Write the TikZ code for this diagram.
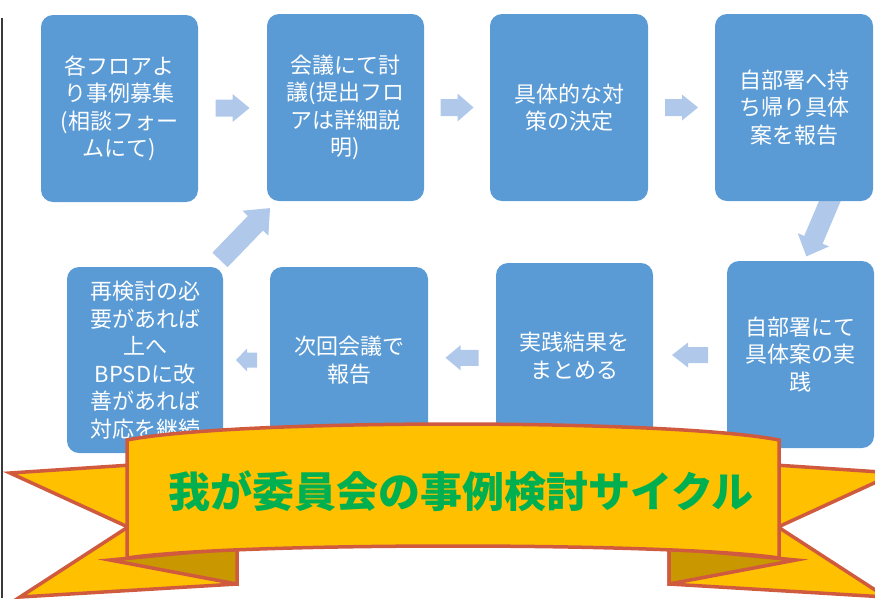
\documentclass[tikz,border=0pt]{standalone}
\usepackage{fontspec}
\newfontfamily\jp{Noto Sans CJK JP}
\usetikzlibrary{calc}
\pgfdeclarelayer{background}
\pgfsetlayers{background,main}
\definecolor{boxblue}{HTML}{5B9BD5}
\definecolor{arrowblue}{HTML}{B0C8EA}
\definecolor{ribfill}{HTML}{FFC000}
\definecolor{ribline}{HTML}{D05A3E}
\definecolor{ribdark}{HTML}{C99700}
\definecolor{titlegreen}{HTML}{00B050}
\definecolor{edgegray}{HTML}{3A3A3A}
\tikzset{
  pics/barrow/.style n args={4}{code={
    \fill[arrowblue] (-#1/2,-#2) -- (#1/2-#4,-#2) -- (#1/2-#4,-#3) -- (#1/2,0)
      -- (#1/2-#4,#3) -- (#1/2-#4,#2) -- (-#1/2,#2) -- cycle;
  }},
  bluebox/.style={fill=boxblue, rounded corners=12pt, text=white,
    font=\jp\fontsize{22}{27.5}\selectfont, align=center, inner sep=0pt},
  ribtail/.style={draw=ribline, line width=3.5pt, fill=ribfill, line join=miter},
  ribfold/.style={draw=ribline, line width=3.5pt, fill=ribdark, line join=miter},
}
\begin{document}
\begin{tikzpicture}[x=1pt,y=-1pt]
\useasboundingbox (0,0) rectangle (875,598);
\draw[edgegray, line width=2pt] (1.5,18) -- (1.5,598);

% boxes
\node[bluebox, minimum width=157pt, minimum height=187pt] (b1) at (119.5,108.5)
  {各フロアよ\\り事例募集\\(相談フォー\\ムにて)};
\node[bluebox, minimum width=157pt, minimum height=187pt] (b2) at (345.5,107.5)
  {会議にて討\\議(提出フロ\\アは詳細説\\明)};
\node[bluebox, minimum width=158pt, minimum height=187pt] (b3) at (569,107.5)
  {具体的な対\\策の決定};
\node[bluebox, minimum width=158pt, minimum height=187pt] (b4) at (794,107.5)
  {自部署へ持\\ち帰り具体\\案を報告};
\node[bluebox, minimum width=147pt, minimum height=187pt] (b5) at (800.5,354.5)
  {自部署にて\\具体案の実\\践};
\node[bluebox, minimum width=157pt, minimum height=185pt] (b6) at (574.5,355.5)
  {実践結果を\\まとめる};
\node[bluebox, minimum width=158pt, minimum height=186pt] (b7) at (349,360)
  {次回会議で\\報告};
\node[bluebox, minimum width=156pt, minimum height=186pt] (b8) at (145,360)
  {再検討の必\\要があれば\\上へ\\BPSDに改\\善があれば\\対応を継続};

% connector arrows (behind the boxes)
\begin{pgfonlayer}{background}
\path ($(b1.east)!0.5!(b2.west)$) pic {barrow={34}{8.5}{14}{17}};
\path ($(b2.east)!0.5!(b3.west)$) pic {barrow={33}{8.5}{14}{16}};
\path ($(b3.east)!0.5!(b4.west)$) pic {barrow={33}{8.5}{13}{16}};
\path ($(b4.south)!0.5!(b5.north)+(22,-5)$) pic[rotate=247] {barrow={66}{10}{17}{18}};
\path ($(b5.west)!0.5!(b6.east)$) pic[rotate=180] {barrow={36}{8}{12.5}{16}};
\path ($(b6.west)!0.5!(b7.east)$) pic[rotate=180] {barrow={33}{8}{12.5}{15}};
\path ($(b7.west)!0.5!(b8.east)$) pic[rotate=180] {barrow={21}{7.5}{11.5}{11}};
\path ($(b8.north east)!0.5!(b2.south west)$) pic[rotate=46] {barrow={72}{10.5}{18}{21}};
\end{pgfonlayer}

% ribbon banner
\draw[ribtail] (10,473) -- (237,458) -- (237,584) -- (20,597) -- (128,527) -- cycle;
\draw[ribtail] (896,473) -- (669,458) -- (669,584) -- (886,597) -- (778,527) -- cycle;
\draw[ribfold] (110,560) -- (237,548) -- (237,584) -- cycle;
\draw[ribfold] (796,560) -- (669,548) -- (669,584) -- cycle;
\draw[ribtail] (127,440) .. controls (235,418.7) and (671,418.7) .. (779,440)
  -- (779,558) .. controls (671,542) and (235,542) .. (127,558) -- cycle;
\node[font=\jp\bfseries\fontsize{42}{42}\selectfont, text=titlegreen] (title) at (461,491)
  {我が委員会の事例検討サイクル};
\end{tikzpicture}
\end{document}
